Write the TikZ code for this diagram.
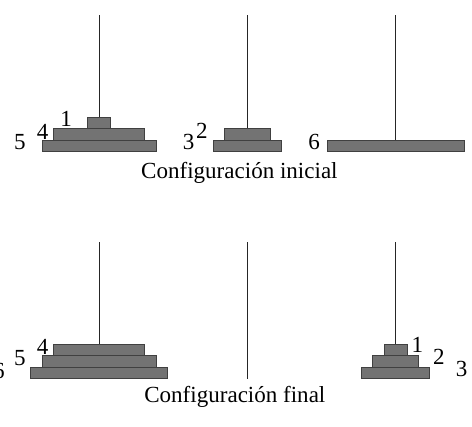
\documentclass[tikz,border=0pt]{standalone}
\usepackage{fontspec}
\setmainfont{Liberation Serif}
\usepackage{tikz}

\begin{document}
\begin{tikzpicture}[x=1cm,y=1cm,font=\fontsize{11.5}{14}\selectfont]
  \tikzstyle{disk}=[draw=black!75, fill=black!55, line width=0.4pt, rectangle, inner sep=0pt, minimum height=0.2cm, anchor=south]
  \tikzstyle{peg}=[draw=black!85, line width=0.45pt]
  \tikzstyle{num}=[inner sep=0pt]
  \useasboundingbox (-1.74,-4.807) rectangle (6.54,2.667);

  % configuracion inicial
  \draw[peg] (0,2.4) -- (0,0);
  \draw[peg] (2.6,2.4) -- (2.6,0);
  \draw[peg] (5.2,2.4) -- (5.2,0);
  \node[disk, minimum width=2.0cm] (ia5) at (0,0) {};
  \node[disk, minimum width=1.6cm] (ia4) at (0,0.2) {};
  \node[disk, minimum width=0.4cm] (ia1) at (0,0.4) {};
  \node[disk, minimum width=1.2cm] (ib3) at (2.6,0) {};
  \node[disk, minimum width=0.8cm] (ib2) at (2.6,0.2) {};
  \node[disk, minimum width=2.4cm] (ic6) at (5.2,0) {};
  \node[num] (la5) at (-1.39,0.17) {5};
  \node[num] (la4) at (-0.99,0.35) {4};
  \node[num] (la1) at (-0.58,0.58) {1};
  \node[num] (lb3) at (1.57,0.17) {3};
  \node[num] (lb2) at (1.80,0.37) {2};
  \node[num] (lc6) at (3.77,0.17) {6};
  \node[anchor=base] (inicial) at (2.46,-0.46) {Configuración inicial};

  % configuracion final
  \draw[peg] (0,-1.58) -- (0,-3.98);
  \draw[peg] (2.6,-1.58) -- (2.6,-3.98);
  \draw[peg] (5.2,-1.58) -- (5.2,-3.98);
  \node[disk, minimum width=2.4cm] (fa6) at (0,-3.98) {};
  \node[disk, minimum width=2.0cm] (fa5) at (0,-3.78) {};
  \node[disk, minimum width=1.6cm] (fa4) at (0,-3.58) {};
  \node[disk, minimum width=1.2cm] (fc3) at (5.2,-3.98) {};
  \node[disk, minimum width=0.8cm] (fc2) at (5.2,-3.78) {};
  \node[disk, minimum width=0.4cm] (fc1) at (5.2,-3.58) {};
  \node[num] (ma6) at (-1.76,-3.84) {6};
  \node[num] (ma5) at (-1.39,-3.61) {5};
  \node[num] (ma4) at (-0.99,-3.42) {4};
  \node[num] (mc1) at (5.58,-3.39) {1};
  \node[num] (mc2) at (5.96,-3.60) {2};
  \node[num] (mc3) at (6.36,-3.81) {3};
  \node[anchor=base] (final) at (2.38,-4.40) {Configuración final};
\end{tikzpicture}
\end{document}
